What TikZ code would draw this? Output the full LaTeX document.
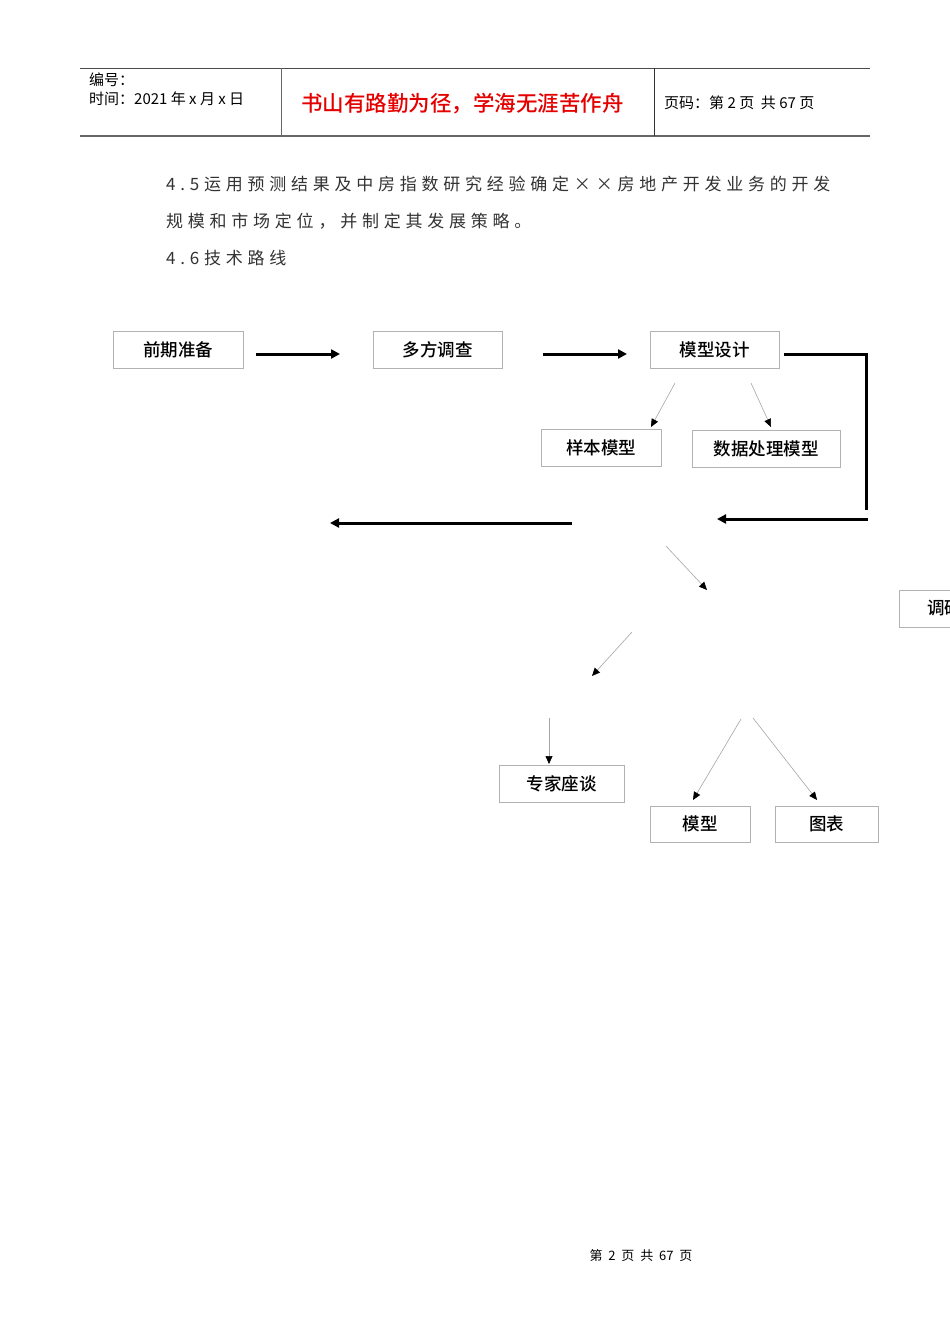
\documentclass[tikz,border=0pt]{standalone}
\usepackage{fontspec}
\setmainfont{Noto Sans CJK SC}
\newfontfamily\spaced[LetterSpace=28]{Noto Sans CJK SC}
\newfontfamily\med{Noto Sans CJK SC Medium}
\usetikzlibrary{arrows.meta}
\begin{document}
\begin{tikzpicture}[x=1pt,y=-1pt,
 bx/.style={draw=black!30,line width=0.8pt,inner sep=0pt,minimum height=37pt,font=\med\fontsize{17.5}{17.5}\selectfont},
 thick arr/.style={line width=3pt,-{Triangle[length=9pt,width=9pt]}},
 thin arr/.style={draw=black!35,line width=0.6pt,-{Triangle[length=8pt,width=7pt,fill=black,color=black]}},
 hd/.style={font=\fontsize{15}{15}\selectfont,anchor=west,inner sep=0pt},
 bd/.style={anchor=west,inner sep=0pt,font=\spaced\fontsize{17}{17}\selectfont,text=black!80}]
\clip (0,0) rectangle (950,1344);
\fill[white] (0,0) rectangle (950,1344);
% header
\draw[black!70,line width=1pt] (80,68) -- (870,68);
\draw[black!60,line width=1.5pt] (80,136) -- (870,136);
\draw[black!60,line width=1pt] (281,68) -- (281,136);
\draw[black!80,line width=0.8pt] (654,68) -- (654,136);
\node[hd] (h1) at (89,80) {编号：};
\node[hd] (h2) at (89,99) {时间：2021 年 x 月 x 日};
\node[hd,text=red!90!black,font=\med\fontsize{21.5}{21.5}\selectfont] (h3) at (301,104) {书山有路勤为径，学海无涯苦作舟};
\node[hd] (h4) at (664,103) {页码：第 2 页\ \ 共 67 页};
% body
\node[bd] (t1) at (166,184) {4.5运用预测结果及中房指数研究经验确定××房地产开发业务的开发};
\node[bd] (t2) at (166,221) {规模和市场定位，并制定其发展策略。};
\node[bd] (t3) at (166,258) {4.6技术路线};
% boxes
\node[bx,minimum width=130pt] (a) at (178,350) {前期准备};
\node[bx,minimum width=129pt] (b) at (437.5,350) {多方调查};
\node[bx,minimum width=129pt] (c) at (714.5,350) {模型设计};
\node[bx,minimum width=120pt] (d) at (601,448) {样本模型};
\node[bx,minimum width=148pt] (e) at (766,448.5) {数据处理模型};
\node[bx,minimum width=100pt,text width=44pt,align=left] (f) at (949,608.5) {调研};
\node[bx,minimum width=125pt] (g) at (561.5,784) {专家座谈};
\node[bx,minimum width=100pt,minimum height=36pt] (h) at (700,824) {模型};
\node[bx,minimum width=103pt,minimum height=36pt] (i) at (826.5,824) {图表};
% thick arrows
\coordinate (p1) at (256,354); \coordinate (p2) at (340,354);
\coordinate (p3) at (543,354); \coordinate (p4) at (627,354);
\coordinate (p5) at (784,354); \coordinate (p6) at (866,354); \coordinate (p7) at (866,510);
\coordinate (p8) at (868,519); \coordinate (p9) at (717,519);
\coordinate (p10) at (572,523); \coordinate (p11) at (330,523);
\draw[thick arr] (p1) -- (p2);
\draw[thick arr] (p3) -- (p4);
\draw[line width=3pt] (p5) -- (p6) -- (p7);
\draw[thick arr] (p8) -- (p9);
\draw[thick arr] (p10) -- (p11);
% thin arrows
\coordinate (q1) at (675,383); \coordinate (q2) at (651,427);
\coordinate (q3) at (751,383); \coordinate (q4) at (771,427);
\coordinate (q5) at (666,546); \coordinate (q6) at (707,590);
\coordinate (q7) at (632,632); \coordinate (q8) at (592,676);
\coordinate (q9) at (549,718); \coordinate (q10) at (549,764);
\coordinate (q11) at (741,719); \coordinate (q12) at (693,800);
\coordinate (q13) at (753,718); \coordinate (q14) at (817,800);
\foreach \s/\t in {q1/q2,q3/q4,q5/q6,q7/q8,q9/q10,q11/q12,q13/q14}
 \draw[thin arr] (\s) -- (\t);
% footer
\node[font=\fontsize{13}{13}\selectfont,inner sep=0pt] (ft) at (641,1256) {第\ \ 2\ \ 页\ \ 共\ \ 67\ \ 页};
\end{tikzpicture}
\end{document}
